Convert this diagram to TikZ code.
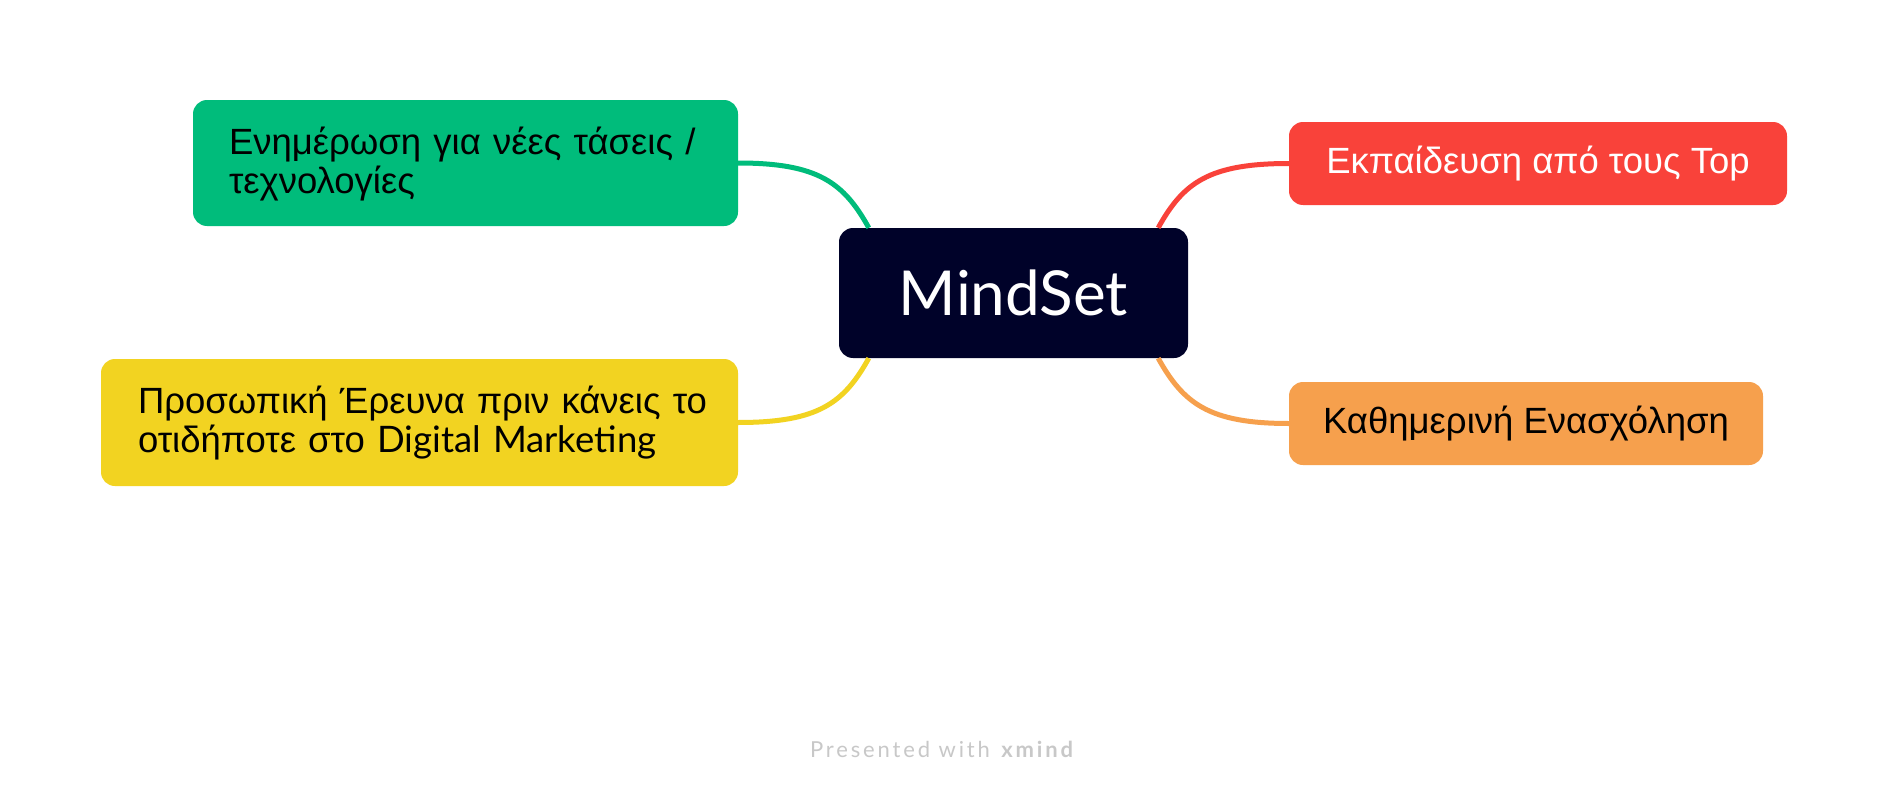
\documentclass[tikz,border=0pt]{standalone}
\usepackage{fontspec}
\setmainfont{Liberation Sans}
\newfontfamily\latofont{Lato}
\newfontfamily\footfont[LetterSpace=13]{Lato}
\usetikzlibrary{calc}
\definecolor{cgreen}{HTML}{00BC7B}
\definecolor{cred}{HTML}{F9423A}
\definecolor{corange}{HTML}{F6A04D}
\definecolor{cyellow}{HTML}{F2D321}
\definecolor{cnavy}{HTML}{000229}
\definecolor{cfoot}{HTML}{C8C8C8}
\newcommand{\topstrut}{\rule{0pt}{30pt}}
\newcommand{\botstrut}{\rule[-9pt]{0pt}{9pt}}
\tikzset{
  topic/.style={rounded corners=14pt, inner ysep=0pt, text=black,
    font=\fontsize{36.5}{39}\selectfont},
  multi/.style={topic, align=left},
  conn/.style={line width=5pt},
}
\begin{document}
\begin{tikzpicture}[x=1pt,y=-1pt]
\useasboundingbox[fill=white] (0,0) rectangle (1888,800);
\node[topic, fill=cnavy, text=white, minimum width=349pt, minimum height=130pt,
  font=\latofont\fontsize{62}{70}\selectfont] (c) at (1013.5,293) {MindSet};
\node[multi, fill=cgreen, minimum width=545pt, minimum height=126pt,
  text width=473pt, inner xsep=36pt] (g) at (465.5,163)
  {\mbox{\topstrut Ενημέρωση για νέες τάσεις /}\\\mbox{τεχνολογίες\botstrut}};
\node[multi, fill=cyellow, minimum width=637pt, minimum height=127pt,
  text width=563pt, inner xsep=37pt] (y) at (419.5,422.5)
  {\mbox{\topstrut Προσωπική Έρευνα πριν κάνεις το}\\\mbox{οτιδήποτε στο {\latofont Digital Marketing}\botstrut}};
\node[topic, fill=cred, text=white, minimum width=498pt, minimum height=83pt] (r) at (1538,163.5)
  {Εκπαίδευση από τους Top};
\node[topic, fill=corange, minimum width=474pt, minimum height=83pt] (o) at (1526,423.5)
  {Καθημερινή Ενασχόληση};
\draw[conn, cgreen] ($(c.north west)+(30,0)$) .. controls +(-25,-45) and +(80,0) .. (g.east);
\draw[conn, cyellow] ($(c.south west)+(30,0)$) .. controls +(-25,45) and +(80,0) .. (y.east);
\draw[conn, cred] ($(c.north east)+(-30,0)$) .. controls +(25,-45) and +(-80,0) .. (r.west);
\draw[conn, corange] ($(c.south east)+(-30,0)$) .. controls +(25,45) and +(-80,0) .. (o.west);
\node[text=cfoot, font=\footfont\fontsize{22}{26}\selectfont] (ft) at (943,749)
  {Presented with \textbf{xmind}};
\end{tikzpicture}
\end{document}
